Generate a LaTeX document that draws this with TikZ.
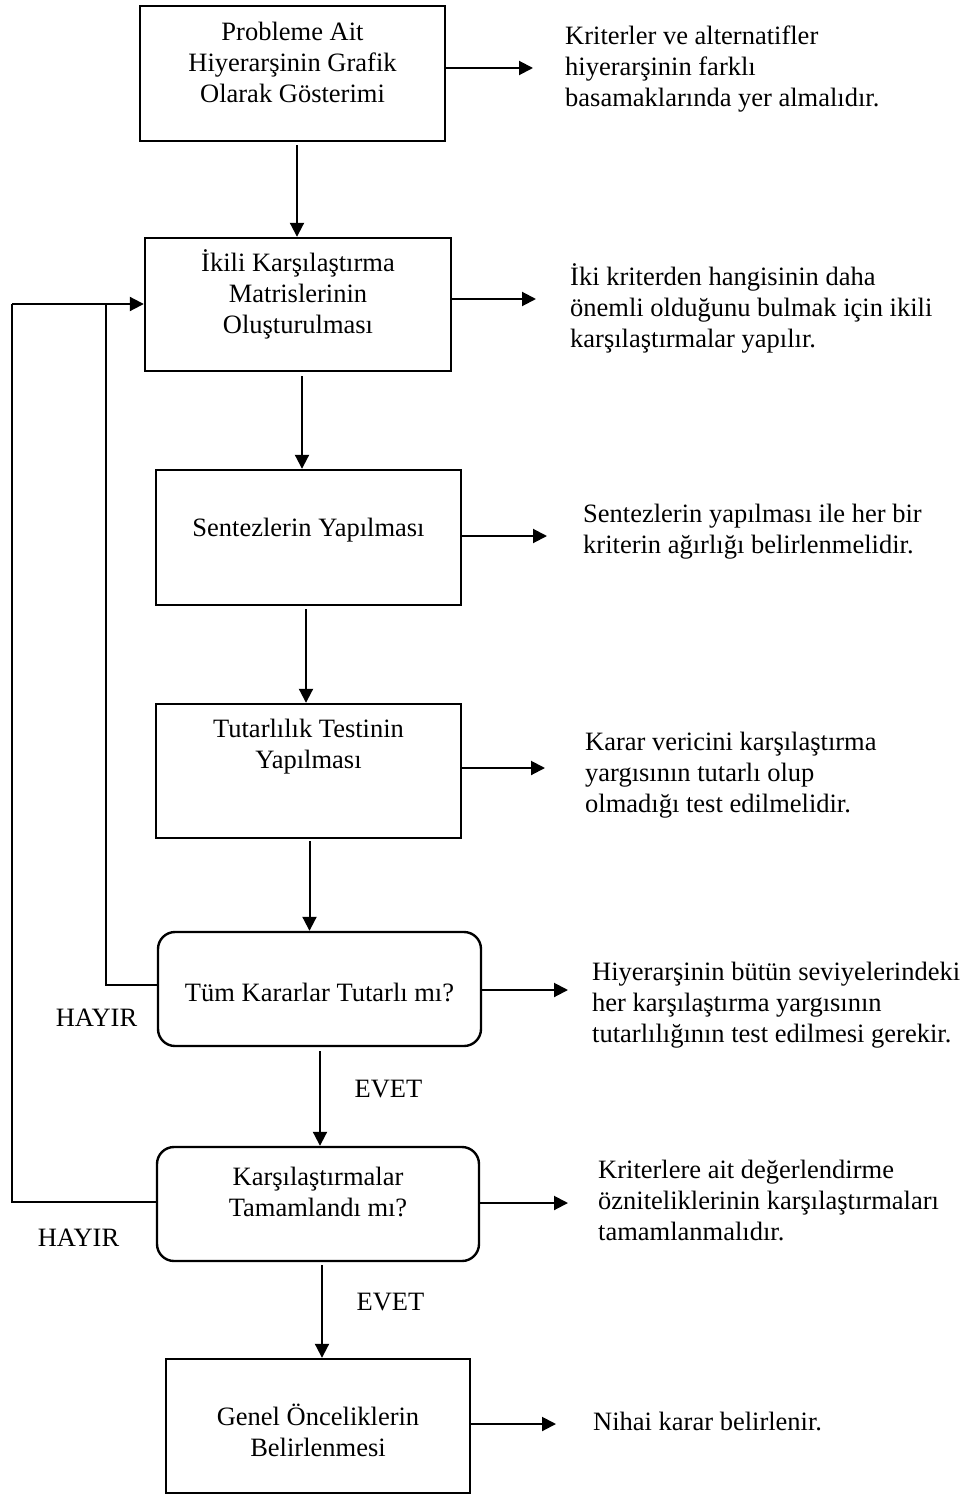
\documentclass[tikz,border=0pt]{standalone}
\usepackage{fontspec}
\setmainfont{Liberation Serif}
\usetikzlibrary{arrows.meta,calc}
\begin{document}
\begin{tikzpicture}[x=1pt,y=-1pt,
  font=\fontsize{26.5}{31}\selectfont,
  box/.style={draw, line width=2.4pt, inner sep=0pt},
  rbox/.style={box, rounded corners=17pt},
  txt/.style={inner sep=0pt, align=center},
  note/.style={inner sep=0pt, align=left, anchor=west},
  lbl/.style={inner sep=0pt, anchor=base},
  conn/.style={line width=2pt, line join=miter},
  arr/.style={conn, -{Triangle[length=14pt,width=14pt]}}]

\useasboundingbox (0,0) rectangle (968,1495);

% process boxes and decisions
\node[box,  minimum width=305, minimum height=135] (b1) at (292.5,73.5) {};
\node[box,  minimum width=306, minimum height=133] (b2) at (298,304.5) {};
\node[box,  minimum width=305, minimum height=135] (b3) at (308.5,537.5) {};
\node[box,  minimum width=305, minimum height=134] (b4) at (308.5,771) {};
\node[rbox, minimum width=323, minimum height=114] (d1) at (319.5,989) {};
\node[rbox, minimum width=322, minimum height=114] (d2) at (318,1204) {};
\node[box,  minimum width=304, minimum height=134] (b7) at (318,1426) {};

% texts inside the boxes
\node[txt] (b1t) at (292.5,65.5) {\strut Probleme Ait\\Hiyerarşinin Grafik\\Olarak Gösterimi\strut};
\node[txt] (b2t) at (298,296.5) {\strut İkili Karşılaştırma\\Matrislerinin\\Oluşturulması\strut};
\node[txt] (b3t) at (308.5,529.8) {\strut Sentezlerin Yapılması};
\node[txt] (b4t) at (308.5,746.6) {\strut Tutarlılık Testinin\\Yapılması\strut};
\node[txt] (d1t) at (319.5,995.5) {\strut Tüm Kararlar Tutarlı mı?};
\node[txt] (d2t) at (318,1194.3) {\strut Karşılaştırmalar\\Tamamlandı mı?\strut};
\node[txt] (b7t) at (318,1434.3) {\strut Genel Önceliklerin\\Belirlenmesi\strut};

% explanations on the right
\node[note] (n1) at (565,69.8) {\strut Kriterler ve alternatifler\\hiyerarşinin farklı\\basamaklarında yer almalıdır.\strut};
\node[note] (n2) at (570,309.8) {\strut İki kriterden hangisinin daha\\önemli olduğunu bulmak için ikili\\karşılaştırmalar yapılır.\strut};
\node[note] (n3) at (583,531.3) {\strut Sentezlerin yapılması ile her bir\\kriterin ağırlığı belirlenmelidir.\strut};
\node[note] (n4) at (585,774.8) {\strut Karar vericini karşılaştırma\\yargısının tutarlı olup\\olmadığı test edilmelidir.\strut};
\node[note] (n5) at (592,1004.8) {\strut Hiyerarşinin bütün seviyelerindeki\\her karşılaştırma yargısının\\tutarlılığının test edilmesi gerekir.\strut};
\node[note] (n6) at (598,1202.8) {\strut Kriterlere ait değerlendirme\\özniteliklerinin karşılaştırmaları\\tamamlanmalıdır.\strut};
\node[note] (n7) at (593,1423.8) {\strut Nihai karar belirlenir.};

% branch labels
\node[lbl] (h1) at (96.5,1026) {HAYIR};
\node[lbl] (h2) at (78.5,1246) {HAYIR};
\node[lbl] (e1) at (388.5,1097) {EVET};
\node[lbl] (e2) at (390.5,1310) {EVET};

% main flow
\coordinate (s1) at ($(b1.south)+(4.5,3)$);
\coordinate (s2) at ($(b2.south)+(4,4)$);
\coordinate (s3) at ($(b3.south)+(-2.5,3)$);
\coordinate (s4) at ($(b4.south)+(1,2)$);
\coordinate (s5) at ($(d1.south)+(0.5,4)$);
\coordinate (s6) at ($(d2.south)+(4,3)$);
\draw[arr] (s1) -- (s1 |- b2.north);
\draw[arr] (s2) -- (s2 |- b3.north);
\draw[arr] (s3) -- (s3 |- b4.north);
\draw[arr] (s4) -- (s4 |- d1.north);
\draw[arr] (s5) -- (s5 |- d2.north);
\draw[arr] (s6) -- (s6 |- b7.north);

% arrows towards the explanations
\coordinate (a1) at (533,68);
\coordinate (a2) at (536,299);
\coordinate (a3) at (547,536);
\coordinate (a4) at (545,768);
\coordinate (a5) at (568,990);
\coordinate (a6) at (568,1203);
\coordinate (a7) at (556,1424);
\draw[arr] (b1.east |- a1) -- (a1);
\draw[arr] (b2.east |- a2) -- (a2);
\draw[arr] (b3.east |- a3) -- (a3);
\draw[arr] (b4.east |- a4) -- (a4);
\draw[arr] (d1.east |- a5) -- (a5);
\draw[arr] (d2.east |- a6) -- (a6);
\draw[arr] (b7.east |- a7) -- (a7);

% feedback loops (HAYIR branches)
\coordinate (o1) at (12,1202);
\coordinate (o2) at (12,304);
\coordinate (i1) at (106,985);
\coordinate (i2) at (106,304);
\draw[conn] (d2.west |- o1) -- (o1) -- (o2);
\draw[arr] (o2) -- (b2.west |- o2);
\draw[conn] (d1.west |- i1) -- (i1) -- (i2);
\end{tikzpicture}
\end{document}
